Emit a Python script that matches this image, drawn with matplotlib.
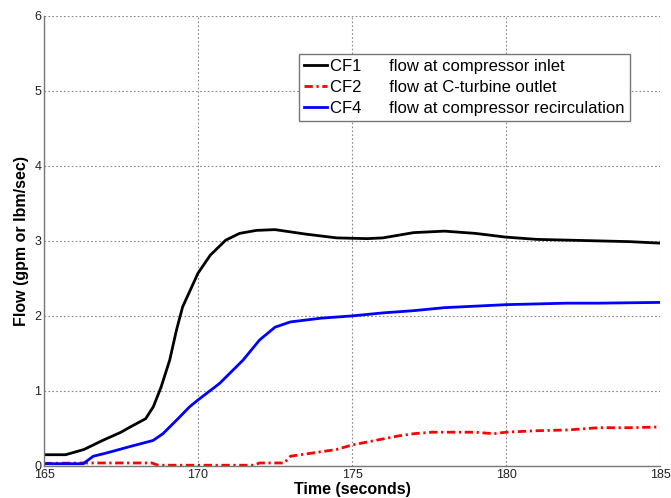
import matplotlib
matplotlib.use("Agg")
import matplotlib.pyplot as plt

plt.rcParams['font.family'] = ['Liberation Sans', 'DejaVu Sans']

# CF1: flow at compressor inlet
t_cf1 = [165, 165.7, 166.3, 166.9, 167.5, 167.8, 168.3, 168.55, 168.8, 169.08, 169.3,
         169.5, 169.8, 170.0, 170.4, 170.9, 171.35, 171.9, 172.5, 173.5, 174.5, 175.5,
         176.0, 177.0, 178.0, 179.0, 180.0, 181.0, 182.0, 183.0, 184.0, 185.0]
cf1 = [0.15, 0.15, 0.22, 0.34, 0.45, 0.52, 0.63, 0.79, 1.05, 1.41, 1.81,
       2.12, 2.39, 2.57, 2.81, 3.01, 3.10, 3.14, 3.15, 3.09, 3.04, 3.03,
       3.04, 3.11, 3.13, 3.10, 3.05, 3.02, 3.01, 3.00, 2.99, 2.97]

# CF2: flow at C-turbine outlet
t_cf2 = [165, 166.3, 168.5, 168.7, 171.8, 172.0, 172.8, 173.0, 173.5, 174.0, 174.5,
         175.0, 175.5, 176.0, 176.5, 177.0, 177.6, 178.0, 179.0, 179.6, 180.0, 181.0,
         182.0, 183.0, 184.0, 185.0]
cf2 = [0.035, 0.04, 0.04, 0.01, 0.01, 0.04, 0.04, 0.13, 0.16, 0.19, 0.22,
       0.28, 0.32, 0.36, 0.40, 0.43, 0.45, 0.45, 0.45, 0.43, 0.45, 0.47,
       0.48, 0.51, 0.51, 0.52]

# CF4: flow at compressor recirculation
t_cf4 = [165, 166.27, 166.6, 167.0, 167.8, 168.54, 168.86, 169.3, 169.73, 170.0, 170.7,
         171.46, 172.0, 172.5, 173.0, 174.0, 175.0, 176.0, 177.0, 178.0, 179.0, 180.0,
         181.0, 182.0, 183.0, 185.0]
cf4 = [0.03, 0.03, 0.13, 0.17, 0.26, 0.34, 0.43, 0.61, 0.79, 0.88, 1.10,
       1.41, 1.68, 1.85, 1.92, 1.97, 2.00, 2.04, 2.07, 2.11, 2.13, 2.15,
       2.16, 2.17, 2.17, 2.18]

labels = ["CF1      flow at compressor inlet",
          "CF2      flow at C-turbine outlet",
          "CF4      flow at compressor recirculation"]

xticks = [165, 170, 175, 180, 185]
yticks = [0, 1, 2, 3, 4, 5, 6]

fig = plt.figure(figsize=(6.71, 4.98), dpi=100)
ax = fig.add_axes([0.0656, 0.0643, 0.918, 0.904])

ax.plot(t_cf1, cf1, color='black', lw=2.0, label=labels[0])
ax.plot(t_cf2, cf2, color='red', lw=2.0, linestyle=(0, (3, 1.3, 0.8, 1.3)), label=labels[1])
ax.plot(t_cf4, cf4, color='blue', lw=2.0, label=labels[2])

ax.set_xlim(165, 185)
ax.set_ylim(0, 6)
ax.set_xticks(xticks)
ax.set_yticks(yticks)
ax.tick_params(length=0, labelsize=9, pad=2, colors='#222222')
ax.grid(True, color='#888888', linestyle=(0, (1.5, 2)), lw=0.8)

for side in ['top', 'right']:
    ax.spines[side].set_visible(False)
for side in ['left', 'bottom']:
    ax.spines[side].set_color('#777777')
    ax.spines[side].set_linewidth(1.0)

ax.set_xlabel("Time (seconds)", fontsize=11.5, fontweight='bold', labelpad=1)
ax.set_ylabel("Flow (gpm or lbm/sec)", fontsize=11.5, fontweight='bold', labelpad=4)

leg = ax.legend(loc='upper left', bbox_to_anchor=(0.4135, 0.9155), fontsize=12,
                handlelength=1.4, handletextpad=0.18, borderpad=0.3,
                labelspacing=0.36, fancybox=False, framealpha=1, borderaxespad=0)
leg.get_frame().set_edgecolor('#777777')
leg.get_frame().set_linewidth(1.0)

fig.savefig("out.png", dpi=100)
